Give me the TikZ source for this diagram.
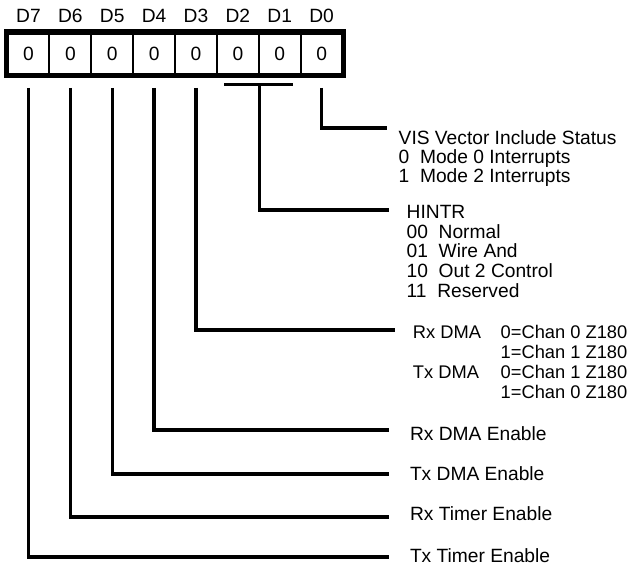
\documentclass[tikz,border=0pt]{standalone}
\usepackage{fontspec}
\setmainfont{Liberation Sans}
\usetikzlibrary{calc}

\begin{document}
\begin{tikzpicture}[x=1pt,y=-1pt,line width=3.4pt,
  bitbox/.style={draw,line width=2pt,minimum width=41.875pt,minimum height=41.5pt,inner sep=0pt},
  txt/.style={anchor=base west,inner sep=0pt}]
  \useasboundingbox (0,0) rectangle (630,567);
  \fontsize{19.2}{19.6}\selectfont
  % register cells
  \foreach \i in {0,...,7}{
    \node[bitbox] (b\i) at ({321.6-41.875*\i},53.75) {0};
    \node[inner sep=0pt,anchor=base] (lbl\i) at ({321.6-41.875*\i},22.7) {D\i};
  }
  \draw[line width=5.5pt] (b7.north west) rectangle (b0.south east);
  % descriptions
  \node[txt] (vis) at (397,145) {\begin{tabular}[t]{@{}l@{}}VIS Vector Include Status\\[-0.9pt]
    0\ \ Mode 0 Interrupts\\[-0.9pt] 1\ \ Mode 2 Interrupts\end{tabular}};
  \node[txt] (hintr) at (405,218.3) {\begin{tabular}[t]{@{}l@{}}HINTR\\ 00\ \ Normal\\
    01\ \ Wire And\\ 10\ \ Out 2 Control\\ 11\ \ Reserved\end{tabular}};
  \node[txt,font=\fontsize{18.3}{19.8}\selectfont] (dma) at (411.2,338.7)
    {\begin{tabular}[t]{@{}p{87.8pt}@{}l@{}}Rx DMA & 0=Chan 0 Z180\\
    & 1=Chan 1 Z180\\ Tx DMA & 0=Chan 1 Z180\\ & 1=Chan 0 Z180\end{tabular}};
  \node[txt] (rxdma) at (408.3,440.5) {Rx DMA Enable};
  \node[txt] (txdma) at (408.3,480) {Tx DMA Enable};
  \node[txt] (rxtim) at (408.3,520.5) {Rx Timer Enable};
  \node[txt] (txtim) at (408.3,562) {Tx Timer Enable};
  % line ends
  \coordinate (e0) at (387,128);
  \coordinate (e1) at (389,210);
  \coordinate (e3) at (395,330);
  \coordinate (e4) at (389,430);
  \coordinate (e5) at (389,474);
  \coordinate (e6) at (389,517);
  \coordinate (e7) at (389,557);
  % bracket under D2 D1
  \draw[line width=3pt] ($(b2.south)+(-13.8,9.5)$) -- ($(b1.south)+(13.3,9.5)$);
  \coordinate (br) at ($(b2.south east)+(0,9.5)$);
  % connectors
  \draw ($(b0.south)+(0,12.5)$) |- (e0);
  \draw (br) |- (e1);
  \draw ($(b3.south)+(0,12.5)$) |- (e3);
  \draw ($(b4.south)+(0,12.5)$) |- (e4);
  \draw ($(b5.south)+(0,12.5)$) |- (e5);
  \draw ($(b6.south)+(0,12.5)$) |- (e6);
  \draw ($(b7.south)+(0,12.5)$) |- (e7);
\end{tikzpicture}
\end{document}
